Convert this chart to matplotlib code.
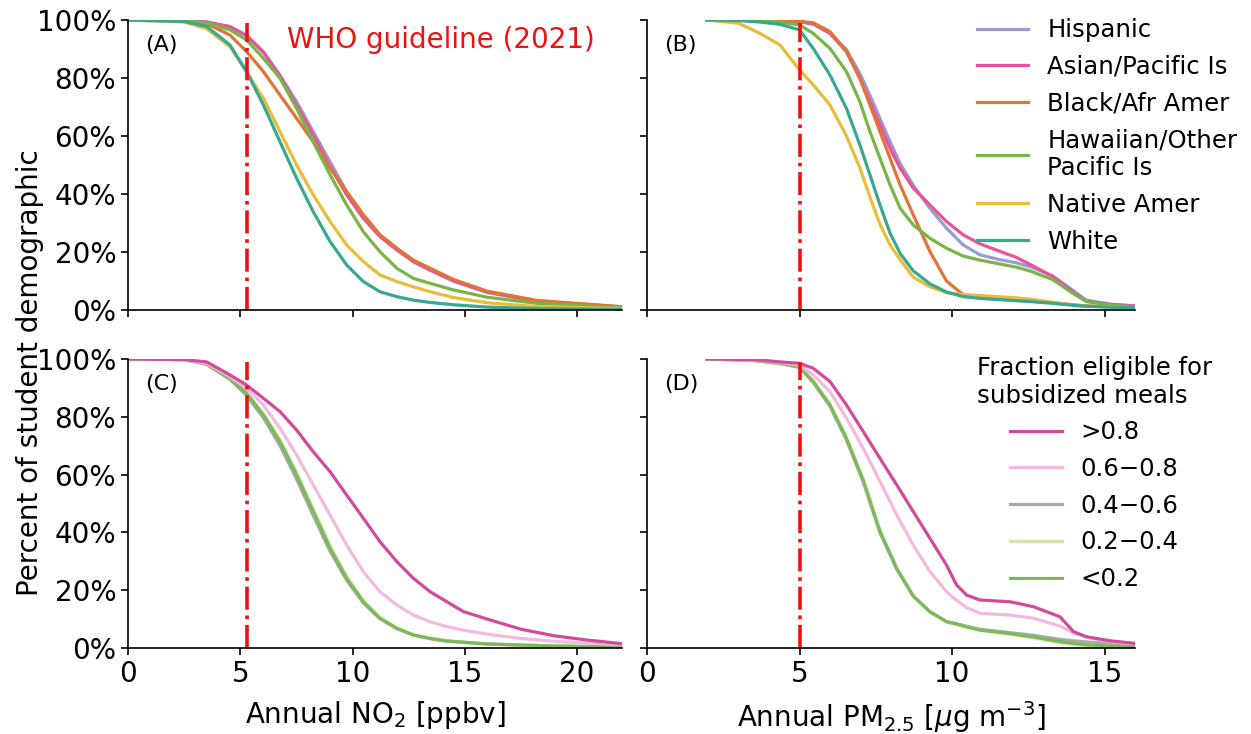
import matplotlib
matplotlib.use("Agg")
import matplotlib.pyplot as plt

# ---------------- data ----------------
# Panel A: NO2 by race/ethnicity  (x in ppbv, y in % of students)
no2_x = [0, 2.5, 3.5, 4.54, 5.28, 6.03, 6.77, 7.51, 8.25, 9.0, 9.74, 10.48, 11.22, 11.97, 12.71, 13.45, 14.5, 16.0, 18.2, 22.0]
no2_hispanic = [100, 99.8, 99.3, 97.7, 94.8, 89.1, 81.0, 71.8, 61.5, 51.1, 40.8, 32.8, 25.9, 21.3, 16.7, 13.8, 10.0, 6.0, 3.0, 1.0]
no2_asian    = [100, 99.8, 99.3, 97.7, 94.5, 88.8, 80.5, 70.7, 60.3, 49.4, 39.7, 31.6, 25.3, 20.7, 16.7, 13.8, 10.0, 6.2, 3.1, 1.1]
no2_black    = [100, 99.7, 98.8, 94.8, 89.1, 82.2, 74.1, 66.1, 58.0, 48.9, 40.8, 32.8, 25.9, 21.3, 17.2, 14.4, 10.5, 6.5, 3.3, 1.1]
no2_hawaiian = [100, 99.8, 99.0, 96.6, 93.1, 86.8, 79.9, 69.5, 58.0, 46.6, 36.2, 27.0, 20.1, 14.4, 10.9, 9.2, 6.9, 4.4, 2.3, 0.8]
no2_native   = [100, 99.3, 97.0, 90.8, 82.2, 73.0, 61.5, 50.0, 39.7, 30.5, 22.4, 16.7, 12.1, 9.8, 8.0, 6.3, 4.3, 2.5, 1.2, 0.5]
no2_white    = [100, 99.5, 97.8, 91.4, 82.2, 70.7, 58.0, 45.4, 33.9, 23.6, 15.5, 9.8, 6.3, 4.6, 3.4, 2.6, 1.8, 1.0, 0.5, 0.2]

# Panel B: PM2.5 by race/ethnicity (x in ug/m3, y in %)
pm_x = [1.96, 3.0, 3.7, 4.36, 5.0, 5.45, 6.0, 6.54, 6.98, 7.31, 7.64, 7.97, 8.3, 8.73, 9.28, 9.82,
        10.37, 10.92, 11.5, 12.1, 12.6, 13.3, 14.0, 14.4, 15.2, 16.0]
pm_hispanic = [100, 100, 99.9, 99.7, 99.4, 98.5, 95.4, 89.8, 81.5, 74.0, 66.0, 58.0, 50.5, 43.0, 35.0, 28.2,
               22.4, 19.0, 17.5, 16.3, 14.8, 11.8, 6.5, 3.4, 2.0, 1.4]
pm_asian    = [100, 100, 99.9, 99.7, 99.4, 98.8, 95.4, 89.1, 79.9, 71.8, 63.8, 55.7, 48.9, 42.0, 36.2, 30.5,
               25.9, 22.8, 20.5, 18.2, 15.5, 11.5, 6.0, 3.0, 1.9, 1.4]
pm_black    = [100, 100, 100, 99.8, 99.6, 99.0, 96.0, 89.1, 79.9, 70.7, 61.5, 52.3, 43.1, 32.8, 20.1, 10.0,
               5.2, 4.3, 3.8, 3.4, 3.0, 2.5, 1.8, 1.4, 1.1, 0.9]
pm_hawaiian = [100, 99.9, 99.7, 99.3, 98.3, 95.4, 90.2, 82.2, 71.8, 61.5, 52.3, 43.1, 35.1, 29.3, 24.7, 21.3,
               18.6, 17.2, 16.0, 14.8, 13.3, 10.5, 5.5, 3.0, 1.6, 1.1]
pm_native   = [100, 98.9, 95.4, 91.4, 82.8, 77.6, 70.7, 60.0, 49.0, 38.9, 29.5, 22.4, 17.3, 11.3, 8.0, 6.0,
               5.3, 5.0, 4.6, 4.2, 3.7, 2.7, 1.6, 1.3, 1.0, 0.8]
pm_white    = [100, 99.8, 99.3, 98.5, 96.6, 90.2, 81.0, 69.5, 56.9, 46.6, 36.2, 26.5, 19.5, 13.5, 9.0, 6.2,
               4.6, 4.0, 3.6, 3.2, 2.9, 2.3, 1.6, 1.3, 1.0, 0.8]

# Panel C: NO2 by fraction eligible for subsidized meals
c_x = [0, 2.5, 3.5, 4.54, 5.28, 6.03, 6.77, 7.51, 8.25, 9.0, 9.74, 10.48, 11.22, 11.97, 12.71, 13.45,
       14.2, 14.94, 16.0, 17.5, 19.0, 20.4, 22.0]
c_gt08  = [100, 99.8, 99.0, 94.5, 91.0, 86.4, 81.8, 75.4, 67.9, 61.0, 52.9, 44.9, 36.8, 29.9, 24.1, 19.5,
           16.0, 12.6, 10.0, 6.5, 4.2, 2.8, 1.5]
c_06_08 = [100, 99.8, 98.5, 93.9, 89.9, 84.1, 76.0, 66.8, 56.4, 46.0, 35.6, 26.4, 19.5, 14.9, 11.4, 9.1,
           7.4, 6.2, 4.8, 3.3, 2.3, 1.7, 1.2]
c_04_06 = [100, 99.8, 98.1, 92.9, 87.4, 79.6, 70.0, 58.4, 45.8, 33.4, 23.4, 15.6, 10.1, 6.7, 4.5, 3.3,
           2.4, 2.0, 1.4, 1.0, 0.7, 0.5, 0.4]
c_02_04 = [100, 99.8, 98.4, 93.6, 88.5, 81.2, 72.2, 60.8, 48.2, 35.4, 24.8, 16.5, 10.6, 7.0, 4.6, 3.4,
           2.5, 2.0, 1.4, 1.0, 0.7, 0.5, 0.4]
c_lt02  = [100, 99.8, 98.3, 93.3, 88.1, 80.6, 71.4, 59.9, 47.2, 34.5, 24.1, 16.0, 10.3, 6.8, 4.5, 3.3,
           2.4, 2.0, 1.4, 1.0, 0.7, 0.5, 0.4]

# Panel D: PM2.5 by fraction eligible for subsidized meals
d_x = [1.96, 3.5, 4.36, 5.0, 5.45, 6.0, 6.54, 7.09, 7.64, 8.19, 8.73, 9.28, 9.82, 10.15, 10.48, 10.92,
       11.9, 12.67, 13.54, 13.98, 14.4, 15.18, 16.0]
d_gt08  = [100, 99.8, 99.0, 98.5, 96.8, 92.2, 84.1, 74.9, 65.6, 56.4, 47.2, 37.9, 28.7, 21.8, 18.3, 16.6,
           16.0, 14.3, 10.8, 5.7, 3.9, 2.5, 1.6]
d_06_08 = [100, 99.7, 98.8, 97.9, 94.5, 88.7, 79.5, 69.1, 57.6, 46.0, 35.6, 26.4, 19.5, 16.5, 14.0, 12.0,
           11.4, 10.3, 7.6, 5.2, 3.9, 2.2, 1.4]
d_04_06 = [100, 99.5, 98.4, 97.1, 91.8, 83.6, 72.0, 57.4, 39.8, 27.2, 17.9, 12.5, 9.2, 8.4, 7.5, 6.5,
           5.3, 4.4, 3.0, 2.5, 2.1, 1.6, 1.0]
d_02_04 = [100, 99.5, 98.5, 97.4, 92.4, 84.4, 72.9, 58.4, 40.7, 27.7, 18.1, 12.5, 9.0, 8.2, 7.2, 6.1,
           4.8, 3.5, 1.8, 1.2, 0.8, 0.5, 0.4]
d_lt02  = [100, 99.5, 98.5, 97.3, 92.2, 84.1, 72.5, 58.0, 40.3, 27.5, 18.0, 12.5, 9.1, 8.3, 7.3, 6.2,
           5.0, 3.8, 2.2, 1.6, 1.1, 0.7, 0.5]

race_labels = ["Hispanic", "Asian/Pacific Is", "Black/Afr Amer",
               "Hawaiian/Other\nPacific Is", "Native Amer", "White"]
race_colors = ["#9b9bd0", "#e8539a", "#e07434", "#79b546", "#e8bd3a", "#38a891"]
meal_labels = [">0.8", "0.6\u22120.8", "0.4\u22120.6", "0.2\u22120.4", "<0.2"]
meal_colors = ["#d24a9c", "#f3bade", "#a9a9a9", "#cfe8a9", "#7db95a"]

no2_guideline = 5.3
pm_guideline = 5.0

# ---------------- figure ----------------
plt.rcParams["font.family"] = ["DejaVu Sans"]
fig = plt.figure(figsize=(12.51, 7.34), dpi=100)
W, H = 1251, 734
def ax_at(x0, x1, y0, y1):
    return fig.add_axes([x0 / W, 1 - y1 / H, (x1 - x0) / W, (y1 - y0) / H])

axA = ax_at(128, 622, 20, 310)
axB = ax_at(647, 1135, 20, 310)
axC = ax_at(128, 622, 359, 648)
axD = ax_at(647, 1135, 359, 648)

lw = 2.3
# A
race_no2 = [no2_hispanic, no2_asian, no2_black, no2_hawaiian, no2_native, no2_white]
for ys, c, lab in zip(race_no2, race_colors, race_labels):
    axA.plot(no2_x, ys, color=c, lw=lw, label=lab)
# B
race_pm = [pm_hispanic, pm_asian, pm_black, pm_hawaiian, pm_native, pm_white]
lines_b = []
for ys, c, lab in zip(race_pm, race_colors, race_labels):
    l, = axB.plot(pm_x, ys, color=c, lw=lw, label=lab)
    lines_b.append(l)
# C
meal_no2 = [c_gt08, c_06_08, c_04_06, c_02_04, c_lt02]
order = [2, 3, 4, 1, 0]
for i in order:
    axC.plot(c_x, meal_no2[i], color=meal_colors[i], lw=lw, label=meal_labels[i])
# D
meal_pm = [d_gt08, d_06_08, d_04_06, d_02_04, d_lt02]
lines_d = [None] * 5
for i in order:
    l, = axD.plot(d_x, meal_pm[i], color=meal_colors[i], lw=lw, label=meal_labels[i])
    lines_d[i] = l

for ax in (axA, axC):
    ax.axvline(no2_guideline, color="#ee1111", lw=2.6, ls="-.", ymax=0.99)
    ax.set_xlim(0, 22)
    ax.set_xticks([0, 5, 10, 15, 20])
for ax in (axB, axD):
    ax.axvline(pm_guideline, color="#ee1111", lw=2.6, ls="-.", ymax=0.99)
    ax.set_xlim(0, 16)
    ax.set_xticks([0, 5, 10, 15])

for ax in (axA, axB, axC, axD):
    ax.set_ylim(0, 100)
    ax.set_yticks([0, 20, 40, 60, 80, 100])
    ax.spines["top"].set_visible(False)
    ax.spines["right"].set_visible(False)
    ax.tick_params(labelsize=20, length=5, width=1.2, direction="out")
    for s in ("left", "bottom"):
        ax.spines[s].set_linewidth(1.2)

for ax in (axA, axC):
    ax.set_yticklabels(["0%", "20%", "40%", "60%", "80%", "100%"])
for ax in (axB, axD):
    ax.set_yticklabels([])
for ax in (axA, axB):
    ax.set_xticklabels([])

axC.set_xlabel("Annual NO$_2$ [ppbv]", fontsize=20, labelpad=8)
axD.set_xlabel("Annual PM$_{2.5}$ [$\\mu$g m$^{-3}$]", fontsize=20, labelpad=8)
fig.text(0.024, 0.493, "Percent of student demographic", rotation=90,
         fontsize=20, ha="center", va="center")

for ax, lab in zip((axA, axB, axC, axD), ("(A)", "(B)", "(C)", "(D)")):
    ax.text(0.035, 0.915, lab, transform=ax.transAxes, fontsize=16,
            ha="left", va="center")

axA.text(7.1, 93, "WHO guideline (2021)", color="#ee1111", fontsize=20,
         ha="left", va="center")

legB = axB.legend(handles=lines_b, loc="upper left", bbox_to_anchor=(0.656, 1.04),
                  frameon=False, fontsize=17.6, handlelength=2.1, handletextpad=0.78,
                  labelspacing=0.52, borderaxespad=0)
legD = axD.legend(handles=lines_d, loc="upper left", bbox_to_anchor=(0.656, 1.045),
                  frameon=False, fontsize=17.6, handlelength=2.1, handletextpad=0.78,
                  labelspacing=0.52, borderaxespad=0,
                  title="Fraction eligible for\nsubsidized meals", title_fontsize=17.6)

fig.savefig("out.png", dpi=100)
